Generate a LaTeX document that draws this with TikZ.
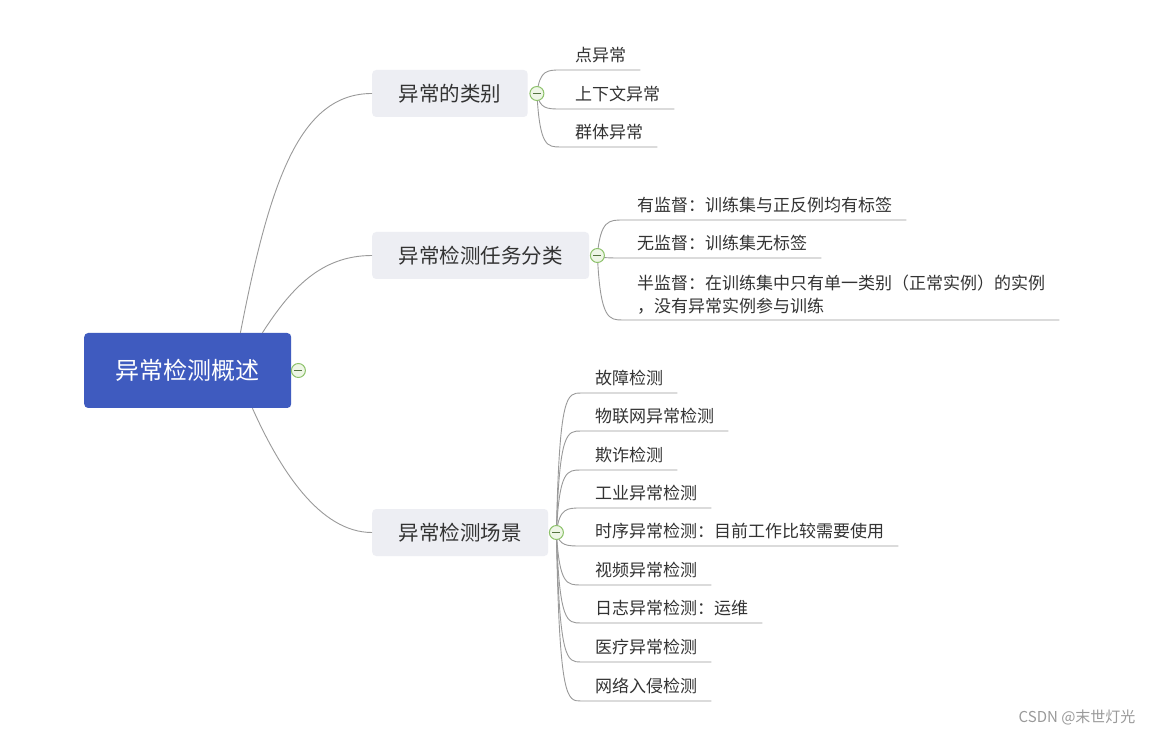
\documentclass[tikz,border=0pt]{standalone}
\usepackage{fontspec}
\setmainfont{Noto Sans CJK SC}
\definecolor{rootblue}{HTML}{3F5BBF}
\definecolor{topicgray}{HTML}{EDEEF3}
\definecolor{inkgray}{HTML}{333333}
\definecolor{linkgray}{HTML}{9A9A9A}
\definecolor{foldgreen}{HTML}{8DC26B}
\definecolor{foldfill}{HTML}{EEF6E6}
\definecolor{markgray}{HTML}{9A9A9A}
\tikzset{
  rootbox/.style={anchor=west, fill=rootblue, rounded corners=4pt, text=white,
    font=\fontsize{24}{28}\selectfont, inner xsep=31.5pt, inner ysep=0pt, minimum height=75pt},
  topicbox/.style={anchor=west, fill=topicgray, rounded corners=4pt, text=inkgray,
    font=\fontsize{20.5}{24}\selectfont, inner xsep=26.5pt, inner ysep=0pt, minimum height=47pt},
  leaf/.style={anchor=south west, inner xsep=14pt, inner ysep=5.5pt, text height=14pt,
    text depth=3pt, text=inkgray, font=\fontsize{17}{23}\selectfont},
  link/.style={draw=linkgray, line width=0.9pt},
  foldmark/.style={circle, draw=foldgreen, fill=foldfill, line width=1pt, minimum size=14pt,
    inner sep=0pt, path picture={\draw[foldgreen!60!black, line width=1.2pt]
      ([xshift=-4pt]path picture bounding box.center) -- ([xshift=4pt]path picture bounding box.center);}}
}
\begin{document}
\begin{tikzpicture}[x=1pt,y=-1pt]
  \useasboundingbox[fill=white] (0,0) rectangle (1152,735);
  % main topics
  \node[rootbox] (root) at (84,370.5) {异常检测概述};
  \node[topicbox] (cat) at (372,93.5) {异常的类别};
  \node[topicbox] (task) at (372,255.5) {异常检测任务分类};
  \node[topicbox] (scene) at (372,532.5) {异常检测场景};
  \coordinate (cr) at ([xshift=7pt]root.east);
  \coordinate (cc) at ([xshift=9pt]cat.east);
  \coordinate (ct) at ([xshift=8pt]task.east);
  \coordinate (cs) at ([xshift=8pt]scene.east);
  \draw[link] ([xshift=-51pt]root.north east) .. controls (270,180) and (300,93.5) .. (cat.west);
  \draw[link] ([xshift=-29pt]root.north east) .. controls (290,290) and (320,255.5) .. (task.west);
  \draw[link] ([xshift=-39pt]root.south east) .. controls (280,470) and (320,532.5) .. (scene.west);
  % kinds
  \node[leaf] (p1) at (561,70) {点异常};
  \node[leaf] (p2) at (561,109) {上下文异常};
  \node[leaf] (p3) at (561,147) {群体异常};
  \draw[link] (cc) .. controls ([xshift=3pt]cc |- p1.south west) and ([xshift=-14pt]p1.south west) .. (p1.south west) -- (p1.south east);
  \draw[link] (cc) .. controls ([xshift=3pt]cc |- p2.south west) and ([xshift=-14pt]p2.south west) .. (p2.south west) -- (p2.south east);
  \draw[link] (cc) .. controls ([xshift=3pt]cc |- p3.south west) and ([xshift=-14pt]p3.south west) .. (p3.south west) -- (p3.south east);
  % tasks
  \node[leaf] (t1) at (623,220) {有监督：训练集与正反例均有标签};
  \node[leaf] (t2) at (623,258) {无监督：训练集无标签};
  \node[leaf, align=left, text height=, text depth=] (t3) at (623,320)
    {半监督：在训练集中只有单一类别（正常实例）的实例\\，没有异常实例参与训练};
  \draw[link] (ct) .. controls ([xshift=3pt]ct |- t1.south west) and ([xshift=-14pt]t1.south west) .. (t1.south west) -- (t1.south east);
  \draw[link] (ct) .. controls ([xshift=3pt]ct |- t2.south west) and ([xshift=-14pt]t2.south west) .. (t2.south west) -- (t2.south east);
  \draw[link] (ct) .. controls ([xshift=3pt]ct |- t3.south west) and ([xshift=-14pt]t3.south west) .. (t3.south west) -- (t3.south east);
  % scenes
  \node[leaf] (s1) at (581,393) {故障检测};
  \node[leaf] (s2) at (581,431) {物联网异常检测};
  \node[leaf] (s3) at (581,470) {欺诈检测};
  \node[leaf] (s4) at (581,508) {工业异常检测};
  \node[leaf] (s5) at (581,546) {时序异常检测：目前工作比较需要使用};
  \node[leaf] (s6) at (581,585) {视频异常检测};
  \node[leaf] (s7) at (581,623) {日志异常检测：运维};
  \node[leaf] (s8) at (581,662) {医疗异常检测};
  \node[leaf] (s9) at (581,701) {网络入侵检测};
  \draw[link] (cs) .. controls ([xshift=3pt]cs |- s1.south west) and ([xshift=-14pt]s1.south west) .. (s1.south west) -- (s1.south east);
  \draw[link] (cs) .. controls ([xshift=3pt]cs |- s2.south west) and ([xshift=-14pt]s2.south west) .. (s2.south west) -- (s2.south east);
  \draw[link] (cs) .. controls ([xshift=3pt]cs |- s3.south west) and ([xshift=-14pt]s3.south west) .. (s3.south west) -- (s3.south east);
  \draw[link] (cs) .. controls ([xshift=3pt]cs |- s4.south west) and ([xshift=-14pt]s4.south west) .. (s4.south west) -- (s4.south east);
  \draw[link] (cs) .. controls ([xshift=3pt]cs |- s5.south west) and ([xshift=-14pt]s5.south west) .. (s5.south west) -- (s5.south east);
  \draw[link] (cs) .. controls ([xshift=3pt]cs |- s6.south west) and ([xshift=-14pt]s6.south west) .. (s6.south west) -- (s6.south east);
  \draw[link] (cs) .. controls ([xshift=3pt]cs |- s7.south west) and ([xshift=-14pt]s7.south west) .. (s7.south west) -- (s7.south east);
  \draw[link] (cs) .. controls ([xshift=3pt]cs |- s8.south west) and ([xshift=-14pt]s8.south west) .. (s8.south west) -- (s8.south east);
  \draw[link] (cs) .. controls ([xshift=3pt]cs |- s9.south west) and ([xshift=-14pt]s9.south west) .. (s9.south west) -- (s9.south east);
  % fold marks
  \node[foldmark] (fr) at (cr) {};
  \node[foldmark] (fc) at (cc) {};
  \node[foldmark] (ft) at (ct) {};
  \node[foldmark] (fs) at (cs) {};
  \node[anchor=east, text=markgray, font=\fontsize{15}{18}\selectfont] (mark) at (1139,717) {CSDN @末世灯光};
\end{tikzpicture}
\end{document}
